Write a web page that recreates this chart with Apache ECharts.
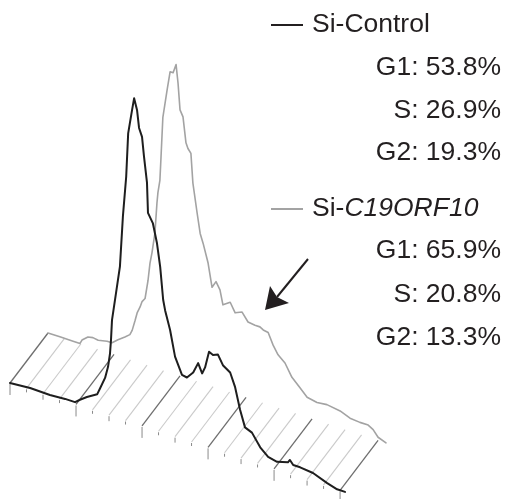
<!DOCTYPE html>
<html><head><meta charset="utf-8">
<style>html,body{margin:0;padding:0;background:#fff}#c{width:507px;height:499px}</style>
<script src="https://cdn.jsdelivr.net/npm/echarts@6/dist/echarts.min.js"></script>
</head><body><div id="c"></div>
<script>
// Si-Control (front histogram): channel / count
const controlCh = [0,61,121,167,197,212,233,264,273,288,297,303,306,309,318,333,342,352,358,370,376,385,391,400,406,415,418,433,445,455,464,470,485,500,521,536,555,570,582,591,603,615,630,645,667,682,697,712,733,758,782,809,842,848,858,879,918,961,991,1015];
const controlCount = [0,1.5,1,2,2,6,11,17,24,36,48,62,76,96,117,152,203,244,288,313,325,314,297,289,270,245,215,206,188,165,133,123,105,80,64,63,70,81,72,79,96,94,96,87,82,69,48,32,29,17,10,8,11,14,10,10,8.5,3,0,0];
// Si-C19ORF10 (back histogram)
const knockCh = [0,36,76,97,103,121,136,152,179,194,212,233,248,255,264,270,279,285,294,303,309,315,324,330,333,339,342,348,361,370,379,388,394,400,409,418,424,433,439,452,461,470,485,497,509,521,530,552,567,588,606,627,642,652,667,682,697,718,739,764,785,815,845,885,915,945,970,985,1000,1024];
const knockCount = [0,0,0,0,4,9,10,9,11,11,16,21,25,30,41,49,56,62,66,85,103,114,135,165,176,189,210,253,282,301,301,310,292,266,260,235,230,226,197,168,149,140,122,99,106,99,85,90,81,84,76,75,75,73,72,61,53,47,35,27,20,18,19,17,13,12,12,9,3,0];
// floor ticks (channel)
const floorTicks = [0,50,100,150,200,250,300,350,400,450,500,550,600,650,700,750,800,850,900,950,1000];
const legendNames = [['Si-', 'Control'], ['Si-', 'C19ORF10']];
const controlPhases = ['G1: 53.8%', 'S: 26.9%', 'G2: 19.3%'];
const knockPhases = ['G1: 65.9%', 'S: 20.8%', 'G2: 13.3%'];

const SLOPE = 0.325, DX = 38, DY = -50;
function project(api, ch, cnt, layer) {
  const p = api.coord([ch, cnt]);
  const o = api.coord([0, 0]);
  return [p[0] + layer * DX, p[1] + SLOPE * (p[0] - o[0]) + layer * DY];
}
function curve(name, chs, cnts, layer, color, width, z) {
  return {
    type: 'custom', name, coordinateSystem: 'cartesian2d', z, data: [[0, 0]], silent: true,
    renderItem(params, api) {
      const pts = chs.map((c, i) => project(api, c, cnts[i], layer));
      return { type: 'polyline', shape: { points: pts },
        style: { stroke: color, lineWidth: width, fill: null, lineJoin: 'round', lineCap: 'round' } };
    }
  };
}
const TEXT = '#231f20';
const FONT = 'Liberation Sans, Arial, Helvetica, sans-serif';
const FS = 26.5;
const graphics = [];
const legendY = [25, 209];
const legendColors = [TEXT, '#a3a3a3'];
legendNames.forEach((n, i) => {
  graphics.push({ type: 'line', shape: { x1: 271, y1: legendY[i], x2: 303, y2: legendY[i] },
    style: { stroke: legendColors[i], lineWidth: 2 } });
  graphics.push({ type: 'text', x: 312, y: legendY[i], style: {
    text: '{a|' + n[0] + '}{' + (i === 1 ? 'b' : 'a') + '|' + n[1] + '}',
    verticalAlign: 'middle', align: 'left',
    rich: { a: { fontSize: FS, fontFamily: FONT, fill: TEXT }, b: { fontSize: FS, fontFamily: FONT, fill: TEXT, fontStyle: 'italic' } }
  } });
});
const phaseY = [[68, 110.5, 153], [251, 294.5, 337.5]];
[controlPhases, knockPhases].forEach((arr, g) => arr.forEach((t, i) => {
  graphics.push({ type: 'text', x: 501, y: phaseY[g][i], style: {
    text: t, align: 'right', verticalAlign: 'middle', fontSize: FS, fontFamily: FONT, fill: TEXT } });
}));
// arrow
graphics.push({ type: 'line', shape: { x1: 308, y1: 259, x2: 277, y2: 297 }, style: { stroke: TEXT, lineWidth: 2 } });
graphics.push({ type: 'polygon', shape: { points: [[265, 310], [270, 286], [277, 297], [289, 303]] }, style: { fill: TEXT } });

const chart = echarts.init(document.getElementById('c'), null, { renderer: 'canvas' });
chart.setOption({
  animation: false,
  backgroundColor: '#fff',
  grid: { left: 10, top: 33, width: 338, height: 350 },
  xAxis: { type: 'value', min: 0, max: 1024, show: false },
  yAxis: { type: 'value', min: 0, max: 350, show: false },
  graphic: graphics,
  series: [
    {
      type: 'custom', name: 'floor', coordinateSystem: 'cartesian2d', z: 1, silent: true,
      data: floorTicks.map(t => [t]),
      renderItem(params, api) {
        const ch = api.value(0);
        const a = project(api, ch, 0, 0), b = project(api, ch, 0, 1);
        const major = ch % 200 === 0, mid = ch % 100 === 0;
        const len = major ? 12 : (mid ? 6 : 4);
        return { type: 'group', children: [
          { type: 'line', shape: { x1: a[0], y1: a[1], x2: b[0], y2: b[1] },
            style: { stroke: major ? '#6e6e6e' : '#cacaca', lineWidth: major ? 1.3 : 1.1 } },
          { type: 'line', shape: { x1: a[0], y1: a[1] + 1, x2: a[0], y2: a[1] + len },
            style: { stroke: '#8a8a8a', lineWidth: 1 } }
        ] };
      }
    },
    curve('Si-C19ORF10', knockCh, knockCount, 1, '#a3a3a3', 1.6, 2),
    curve('Si-Control', controlCh, controlCount, 0, '#1e1e1e', 2, 3)
  ]
});
</script></body></html>
